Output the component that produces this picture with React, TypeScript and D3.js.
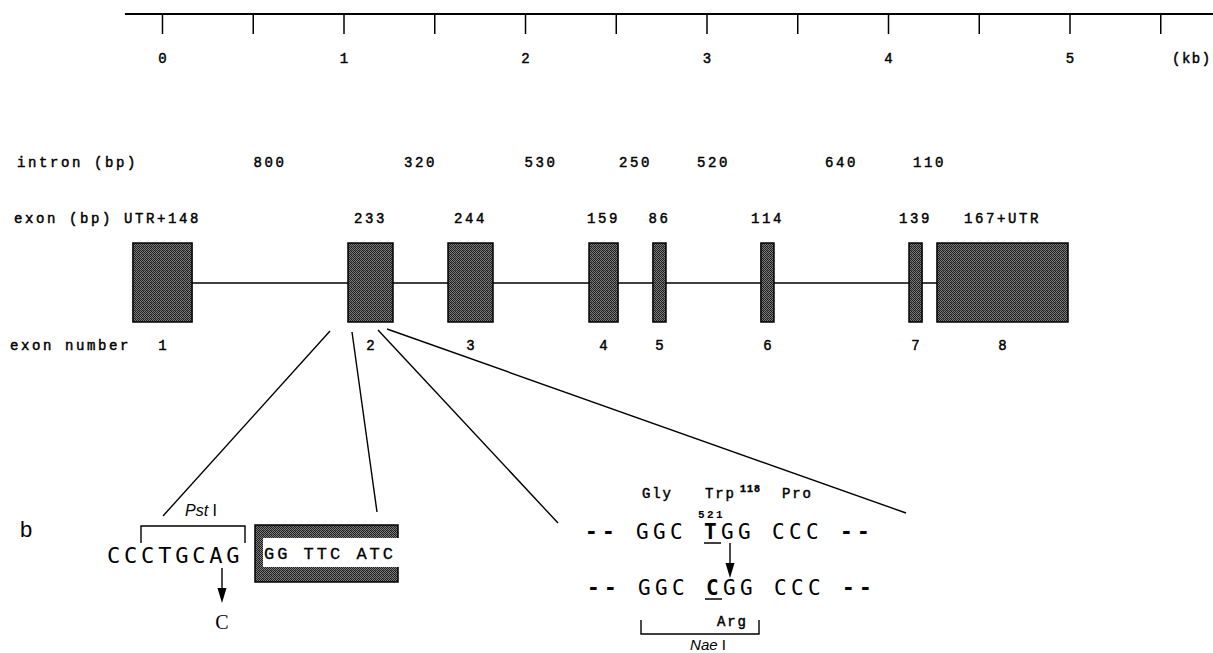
import * as d3 from "d3";

// kb scale ticks
const KB_TICKS = [0, 0.5, 1, 1.5, 2, 2.5, 3, 3.5, 4, 4.5, 5, 5.5];
const KB_LABELS = [0, 1, 2, 3, 4, 5];

// exons (kb along the gene)
const EXON_NUMBERS = [1, 2, 3, 4, 5, 6, 7, 8];
const EXON_START_KB = [-0.163, 1.022, 1.573, 2.35, 2.702, 3.297, 4.113, 4.267];
const EXON_END_KB = [0.163, 1.27, 1.821, 2.51, 2.774, 3.369, 4.185, 4.989];
const EXON_BP = ["UTR+148", "233", "244", "159", "86", "114", "139", "167+UTR"];
const INTRON_BP = [800, 320, 530, 250, 520, 640, 110];

const W = 1213;
const H = 653;

const mono = "'Liberation Mono', 'Courier New', monospace";
const sansMono = "'DejaVu Sans Mono', 'Liberation Mono', monospace";
const sans = "'Liberation Sans', Arial, sans-serif";

// zoom-in lines from exon 2 down to the sequence panels
const ZOOM_LINES = [
  [330, 331, 163, 516],
  [352, 332, 377, 512],
  [378, 330, 558, 523],
  [387, 329, 906, 513],
];

function Arrow({ x, y1, y2 }: { x: number; y1: number; y2: number }) {
  return (
    <g>
      <line x1={x} x2={x} y1={y1} y2={y2 - 12} stroke="#000" strokeWidth={1.4} />
      <polygon points={`${x - 4.5},${y2 - 15} ${x + 4.5},${y2 - 15} ${x},${y2}`} fill="#000" />
    </g>
  );
}

export default function App() {
  const x = d3.scaleLinear().domain([0, 5]).range([162.5, 1070]);

  const exons = EXON_NUMBERS.map((n, i) => ({
    n,
    x0: x(EXON_START_KB[i]),
    x1: x(EXON_END_KB[i]),
    bp: EXON_BP[i],
  }));
  const introns = INTRON_BP.map((bp, i) => ({
    bp,
    cx: (x(EXON_END_KB[i]) + x(EXON_START_KB[i + 1])) / 2,
  }));

  const boxTop = 243;
  const boxBot = 322;
  const lineY = 283;

  const labelStyle = {
    fontFamily: mono,
    fontSize: 14,
    letterSpacing: 2.6,
    fill: "#000",
    stroke: "#000",
    strokeWidth: 0.45,
  } as const;

  return (
    <svg
      width={W}
      height={H}
      style={{ position: "absolute", left: 0, top: 0, background: "#fff" }}
    >
      <defs>
        <pattern id="stipple" width={4} height={4} patternUnits="userSpaceOnUse">
          <rect width={4} height={4} fill="#7c7c7c" />
          <rect x={0} y={0} width={1} height={1} fill="#1e1e1e" />
          <rect x={2} y={0} width={1} height={1} fill="#1e1e1e" />
          <rect x={1} y={1} width={1} height={1} fill="#1e1e1e" />
          <rect x={3} y={1} width={1} height={1} fill="#2e2e2e" />
          <rect x={0} y={2} width={1} height={1} fill="#2e2e2e" />
          <rect x={2} y={2} width={1} height={1} fill="#1e1e1e" />
          <rect x={1} y={3} width={1} height={1} fill="#1e1e1e" />
          <rect x={3} y={3} width={1} height={1} fill="#1e1e1e" />
          <rect x={3} y={2} width={1} height={1} fill="#555" />
        </pattern>
      </defs>
      <rect width={W} height={H} fill="#fff" />

      {/* kb scale */}
      <line x1={x(-0.207)} x2={W} y1={14} y2={14} stroke="#000" strokeWidth={2} />
      {KB_TICKS.map((t) => (
        <line key={t} x1={x(t)} x2={x(t)} y1={14} y2={34} stroke="#000" strokeWidth={1.5} />
      ))}
      {KB_LABELS.map((t) => (
        <text key={t} x={x(t)} y={63} textAnchor="middle" {...labelStyle} letterSpacing={0}>
          {t}
        </text>
      ))}
      <text x={1172} y={63} {...labelStyle} letterSpacing={1.5}>
        (kb)
      </text>

      {/* intron sizes */}
      <text x={17} y={167} {...labelStyle}>
        intron (bp)
      </text>
      {introns.map((d, i) => (
        <text key={i} x={d.cx} y={167} textAnchor="middle" {...labelStyle}>
          {d.bp}
        </text>
      ))}

      {/* exon sizes */}
      <text x={14} y={223} {...labelStyle}>
        exon (bp)
      </text>
      {exons.map((d) => (
        <text key={d.n} x={(d.x0 + d.x1) / 2} y={223} textAnchor="middle" {...labelStyle}>
          {d.bp}
        </text>
      ))}

      {/* gene structure */}
      <line
        x1={exons[0].x1}
        x2={exons[exons.length - 1].x0}
        y1={lineY}
        y2={lineY}
        stroke="#000"
        strokeWidth={1.5}
      />
      {exons.map((d) => (
        <rect
          key={d.n}
          x={d.x0}
          y={boxTop}
          width={d.x1 - d.x0}
          height={boxBot - boxTop}
          fill="url(#stipple)"
          stroke="#000"
          strokeWidth={1.5}
        />
      ))}

      {/* exon numbers */}
      <text x={10} y={350} {...labelStyle}>
        exon number
      </text>
      {exons.map((d) => (
        <text key={d.n} x={(d.x0 + d.x1) / 2} y={350} textAnchor="middle" {...labelStyle} letterSpacing={0}>
          {d.n}
        </text>
      ))}

      {/* zoom lines */}
      {ZOOM_LINES.map(([a, b, c, e], i) => (
        <line key={i} x1={a} y1={b} x2={c} y2={e} stroke="#000" strokeWidth={1.4} />
      ))}

      {/* panel b */}
      <text x={20} y={537} fontFamily={sans} fontSize={22} fill="#000">
        b
      </text>

      {/* Pst I site */}
      <text x={201} y={516} textAnchor="middle" fontFamily={sans} fontSize={16} fill="#000">
        <tspan fontStyle="italic">Pst</tspan> I
      </text>
      <path d="M141,543 V526 H245 V543" fill="none" stroke="#000" strokeWidth={1.4} />
      <text x={107} y={563} fontFamily={sansMono} fontSize={22} letterSpacing={3.8} fill="#000">
        CCCTGCAG
      </text>
      <rect x={255} y={525} width={143} height={57} fill="url(#stipple)" stroke="#000" strokeWidth={1.5} />
      <rect x={263} y={538} width={137} height={29} fill="#fff" />
      <text x={264} y={559} fontFamily={mono} fontSize={17} letterSpacing={3} fill="#000" stroke="#000" strokeWidth={0.3}>
        GG TTC ATC
      </text>
      <Arrow x={222} y1={568} y2={603} />
      <text x={222} y={629} textAnchor="middle" fontFamily="'Liberation Serif', 'Times New Roman', serif" fontSize={20} fill="#000">
        C
      </text>

      {/* Trp118 Arg mutation */}
      <text y={498} {...labelStyle} letterSpacing={1.8}>
        <tspan x={642}>Gly</tspan>
        <tspan x={705}>Trp</tspan>
        <tspan x={740} dy={-6} fontSize={10} fontWeight="bold" letterSpacing={1}>
          118
        </tspan>
        <tspan x={782} dy={6}>Pro</tspan>
      </text>
      <text x={698} y={518} fontFamily={mono} fontSize={11} fontWeight="bold" letterSpacing={2.4} fill="#000">
        521
      </text>
      <text x={585} y={539} fontFamily={sansMono} fontSize={21} letterSpacing={4.35} fill="#000">
        <tspan fontWeight="bold">--</tspan> GGC <tspan fontWeight="bold">T</tspan>GG CCC <tspan fontWeight="bold">--</tspan>
      </text>
      <line x1={704} x2={721} y1={543} y2={543} stroke="#000" strokeWidth={1.5} />
      <Arrow x={730} y1={543} y2={578} />
      <text x={587} y={595} fontFamily={sansMono} fontSize={21} letterSpacing={4.35} fill="#000">
        <tspan fontWeight="bold">--</tspan> GGC <tspan fontWeight="bold">C</tspan>GG CCC <tspan fontWeight="bold">--</tspan>
      </text>
      <line x1={705} x2={722} y1={599} y2={599} stroke="#000" strokeWidth={1.5} />
      <text x={717} y={626} {...labelStyle} letterSpacing={1.8}>
        Arg
      </text>
      <path d="M641,620 V634 H759 V620" fill="none" stroke="#000" strokeWidth={1.4} />
      <text x={708} y={650} textAnchor="middle" fontFamily={sans} fontSize={15} fill="#000">
        <tspan fontStyle="italic">Nae</tspan> I
      </text>
    </svg>
  );
}
